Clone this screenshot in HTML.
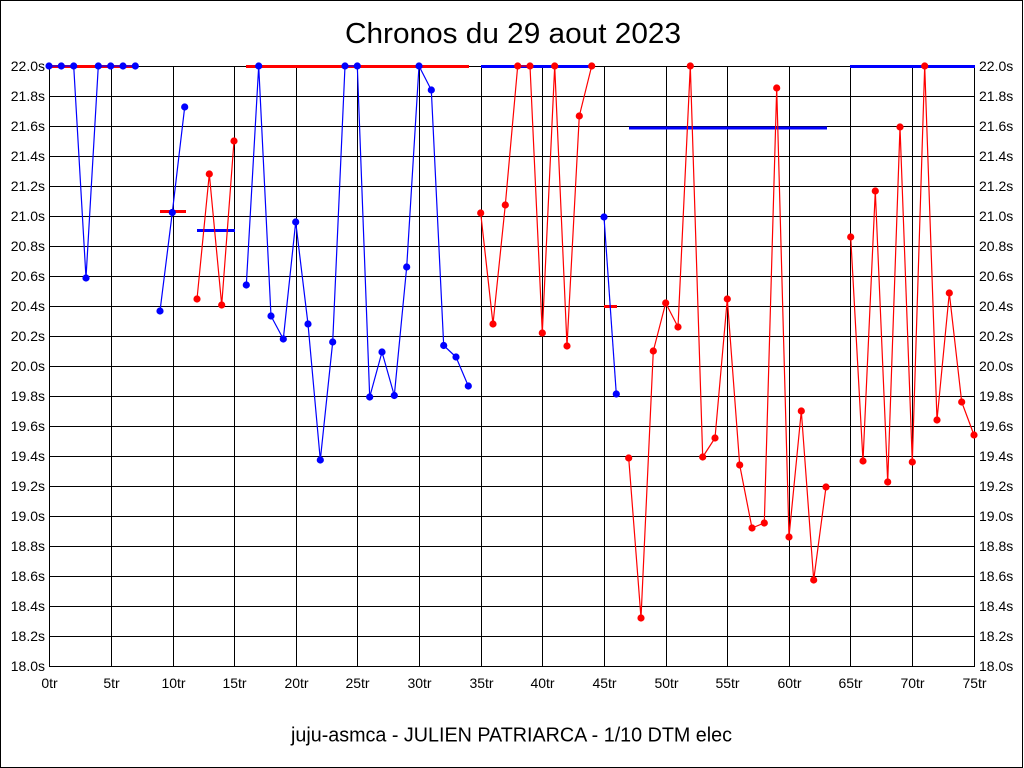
<!DOCTYPE html>
<html><head><meta charset="utf-8"><style>
html,body{margin:0;padding:0;background:#fff;}
svg{display:block;}
text{font-family:"Liberation Sans",Arial,sans-serif;fill:#000;}
</style></head><body>
<svg width="1024" height="768" viewBox="0 0 1024 768" xmlns="http://www.w3.org/2000/svg">
<rect x="0" y="0" width="1024" height="768" fill="#fff"/>
<rect x="0.5" y="0.5" width="1022" height="767" fill="none" stroke="#000" stroke-width="1"/>
<text x="513" y="43" font-size="29" text-anchor="middle" textLength="336" lengthAdjust="spacingAndGlyphs">Chronos du 29 aout 2023</text>
<g stroke="#000" stroke-width="1" shape-rendering="crispEdges">
<line x1="49" y1="66.5" x2="974" y2="66.5"/><line x1="49" y1="96.5" x2="974" y2="96.5"/><line x1="49" y1="126.5" x2="974" y2="126.5"/><line x1="49" y1="156.5" x2="974" y2="156.5"/><line x1="49" y1="186.5" x2="974" y2="186.5"/><line x1="49" y1="216.5" x2="974" y2="216.5"/><line x1="49" y1="246.5" x2="974" y2="246.5"/><line x1="49" y1="276.5" x2="974" y2="276.5"/><line x1="49" y1="306.5" x2="974" y2="306.5"/><line x1="49" y1="336.5" x2="974" y2="336.5"/><line x1="49" y1="366.5" x2="974" y2="366.5"/><line x1="49" y1="396.5" x2="974" y2="396.5"/><line x1="49" y1="426.5" x2="974" y2="426.5"/><line x1="49" y1="456.5" x2="974" y2="456.5"/><line x1="49" y1="486.5" x2="974" y2="486.5"/><line x1="49" y1="516.5" x2="974" y2="516.5"/><line x1="49" y1="546.5" x2="974" y2="546.5"/><line x1="49" y1="576.5" x2="974" y2="576.5"/><line x1="49" y1="606.5" x2="974" y2="606.5"/><line x1="49" y1="636.5" x2="974" y2="636.5"/><line x1="49" y1="666.5" x2="974" y2="666.5"/>
<line x1="49.5" y1="66" x2="49.5" y2="667"/><line x1="111.5" y1="66" x2="111.5" y2="667"/><line x1="173.5" y1="66" x2="173.5" y2="667"/><line x1="234.5" y1="66" x2="234.5" y2="667"/><line x1="296.5" y1="66" x2="296.5" y2="667"/><line x1="357.5" y1="66" x2="357.5" y2="667"/><line x1="419.5" y1="66" x2="419.5" y2="667"/><line x1="481.5" y1="66" x2="481.5" y2="667"/><line x1="542.5" y1="66" x2="542.5" y2="667"/><line x1="604.5" y1="66" x2="604.5" y2="667"/><line x1="666.5" y1="66" x2="666.5" y2="667"/><line x1="727.5" y1="66" x2="727.5" y2="667"/><line x1="789.5" y1="66" x2="789.5" y2="667"/><line x1="850.5" y1="66" x2="850.5" y2="667"/><line x1="912.5" y1="66" x2="912.5" y2="667"/><line x1="974.5" y1="66" x2="974.5" y2="667"/>
</g>
<g font-size="14" text-anchor="end">
<text x="45" y="71">22.0s</text><text x="45" y="101">21.8s</text><text x="45" y="131">21.6s</text><text x="45" y="161">21.4s</text><text x="45" y="191">21.2s</text><text x="45" y="221">21.0s</text><text x="45" y="251">20.8s</text><text x="45" y="281">20.6s</text><text x="45" y="311">20.4s</text><text x="45" y="341">20.2s</text><text x="45" y="371">20.0s</text><text x="45" y="401">19.8s</text><text x="45" y="431">19.6s</text><text x="45" y="461">19.4s</text><text x="45" y="491">19.2s</text><text x="45" y="521">19.0s</text><text x="45" y="551">18.8s</text><text x="45" y="581">18.6s</text><text x="45" y="611">18.4s</text><text x="45" y="641">18.2s</text><text x="45" y="671">18.0s</text>
</g>
<g font-size="14" text-anchor="start">
<text x="979" y="71">22.0s</text><text x="979" y="101">21.8s</text><text x="979" y="131">21.6s</text><text x="979" y="161">21.4s</text><text x="979" y="191">21.2s</text><text x="979" y="221">21.0s</text><text x="979" y="251">20.8s</text><text x="979" y="281">20.6s</text><text x="979" y="311">20.4s</text><text x="979" y="341">20.2s</text><text x="979" y="371">20.0s</text><text x="979" y="401">19.8s</text><text x="979" y="431">19.6s</text><text x="979" y="461">19.4s</text><text x="979" y="491">19.2s</text><text x="979" y="521">19.0s</text><text x="979" y="551">18.8s</text><text x="979" y="581">18.6s</text><text x="979" y="611">18.4s</text><text x="979" y="641">18.2s</text><text x="979" y="671">18.0s</text>
</g>
<g font-size="14" text-anchor="middle">
<text x="49.5" y="688">0tr</text><text x="111.5" y="688">5tr</text><text x="173.5" y="688">10tr</text><text x="234.5" y="688">15tr</text><text x="296.5" y="688">20tr</text><text x="357.5" y="688">25tr</text><text x="419.5" y="688">30tr</text><text x="481.5" y="688">35tr</text><text x="542.5" y="688">40tr</text><text x="604.5" y="688">45tr</text><text x="666.5" y="688">50tr</text><text x="727.5" y="688">55tr</text><text x="789.5" y="688">60tr</text><text x="850.5" y="688">65tr</text><text x="912.5" y="688">70tr</text><text x="974.5" y="688">75tr</text>
</g>
<text x="511.5" y="741.5" font-size="20" text-anchor="middle" textLength="441" lengthAdjust="spacingAndGlyphs">juju-asmca - JULIEN PATRIARCA - 1/10 DTM elec</text>

<!-- bars -->
<g stroke-width="3" shape-rendering="crispEdges">
<line x1="49" y1="66.5" x2="137" y2="66.5" stroke="#f00"/>
<line x1="160" y1="211.5" x2="186" y2="211.5" stroke="#f00"/>
<line x1="197" y1="230.5" x2="235" y2="230.5" stroke="#00f"/>
<line x1="246" y1="66.5" x2="469" y2="66.5" stroke="#f00"/>
<line x1="481" y1="66.5" x2="593" y2="66.5" stroke="#00f"/>
<line x1="604" y1="306.5" x2="617" y2="306.5" stroke="#f00"/>
<line x1="629" y1="128" x2="827" y2="128" stroke="#00f"/>
<line x1="850" y1="66.5" x2="975" y2="66.5" stroke="#00f"/>
</g>

<!-- series lines -->
<g fill="none" stroke-width="1.2" stroke-linejoin="round">
<polyline stroke="#00f" points="49,66 61.3,66 73.7,66 86,278 98.3,66 110.7,66 123,66 135.3,66"/>
<polyline stroke="#00f" points="160,311 172.3,212.5 184.7,107"/>
<polyline stroke="#f00" points="197,299 209.3,174 221.7,305 234,141"/>
<polyline stroke="#00f" points="246.3,285 258.7,66 271,316 283.3,339 295.7,222 308,324 320.3,460 332.7,342 345,66 357.3,66 369.7,397 382,352 394.3,395.5 406.7,267 419,66 431.3,90 443.7,345.5 456,357 468.3,386"/>
<polyline stroke="#f00" points="480.7,213 493,324 505.3,205 517.7,66 530,66 542.3,333 554.7,66 567,346 579.3,116 591.7,66"/>
<polyline stroke="#00f" points="604,217 616.3,394"/>
<polyline stroke="#f00" points="628.7,458 641,618 653.3,351 665.7,303 678,327 690.3,66 702.7,457 715,438 727.3,299 739.7,465 752,528 764.3,523 776.7,88 789,537 801.3,411 813.7,580 826,487"/>
<polyline stroke="#f00" points="850.7,237 863,461 875.3,191 887.7,482 900,127 912.3,462 924.7,66 937,420 949.3,293 961.7,402 974,435"/>
</g>

<!-- markers -->
<g fill="#00f">
<circle cx="49" cy="66" r="3.6"/><circle cx="61.3" cy="66" r="3.6"/><circle cx="73.7" cy="66" r="3.6"/><circle cx="86" cy="278" r="3.6"/><circle cx="98.3" cy="66" r="3.6"/><circle cx="110.7" cy="66" r="3.6"/><circle cx="123" cy="66" r="3.6"/><circle cx="135.3" cy="66" r="3.6"/>
<circle cx="160" cy="311" r="3.6"/><circle cx="172.3" cy="212.5" r="3.6"/><circle cx="184.7" cy="107" r="3.6"/>
<circle cx="246.3" cy="285" r="3.6"/><circle cx="258.7" cy="66" r="3.6"/><circle cx="271" cy="316" r="3.6"/><circle cx="283.3" cy="339" r="3.6"/><circle cx="295.7" cy="222" r="3.6"/><circle cx="308" cy="324" r="3.6"/><circle cx="320.3" cy="460" r="3.6"/><circle cx="332.7" cy="342" r="3.6"/><circle cx="345" cy="66" r="3.6"/><circle cx="357.3" cy="66" r="3.6"/><circle cx="369.7" cy="397" r="3.6"/><circle cx="382" cy="352" r="3.6"/><circle cx="394.3" cy="395.5" r="3.6"/><circle cx="406.7" cy="267" r="3.6"/><circle cx="419" cy="66" r="3.6"/><circle cx="431.3" cy="90" r="3.6"/><circle cx="443.7" cy="345.5" r="3.6"/><circle cx="456" cy="357" r="3.6"/><circle cx="468.3" cy="386" r="3.6"/>
<circle cx="604" cy="217" r="3.6"/><circle cx="616.3" cy="394" r="3.6"/>
</g>
<g fill="#f00">
<circle cx="197" cy="299" r="3.6"/><circle cx="209.3" cy="174" r="3.6"/><circle cx="221.7" cy="305" r="3.6"/><circle cx="234" cy="141" r="3.6"/>
<circle cx="480.7" cy="213" r="3.6"/><circle cx="493" cy="324" r="3.6"/><circle cx="505.3" cy="205" r="3.6"/><circle cx="517.7" cy="66" r="3.6"/><circle cx="530" cy="66" r="3.6"/><circle cx="542.3" cy="333" r="3.6"/><circle cx="554.7" cy="66" r="3.6"/><circle cx="567" cy="346" r="3.6"/><circle cx="579.3" cy="116" r="3.6"/><circle cx="591.7" cy="66" r="3.6"/>
<circle cx="628.7" cy="458" r="3.6"/><circle cx="641" cy="618" r="3.6"/><circle cx="653.3" cy="351" r="3.6"/><circle cx="665.7" cy="303" r="3.6"/><circle cx="678" cy="327" r="3.6"/><circle cx="690.3" cy="66" r="3.6"/><circle cx="702.7" cy="457" r="3.6"/><circle cx="715" cy="438" r="3.6"/><circle cx="727.3" cy="299" r="3.6"/><circle cx="739.7" cy="465" r="3.6"/><circle cx="752" cy="528" r="3.6"/><circle cx="764.3" cy="523" r="3.6"/><circle cx="776.7" cy="88" r="3.6"/><circle cx="789" cy="537" r="3.6"/><circle cx="801.3" cy="411" r="3.6"/><circle cx="813.7" cy="580" r="3.6"/><circle cx="826" cy="487" r="3.6"/>
<circle cx="850.7" cy="237" r="3.6"/><circle cx="863" cy="461" r="3.6"/><circle cx="875.3" cy="191" r="3.6"/><circle cx="887.7" cy="482" r="3.6"/><circle cx="900" cy="127" r="3.6"/><circle cx="912.3" cy="462" r="3.6"/><circle cx="924.7" cy="66" r="3.6"/><circle cx="937" cy="420" r="3.6"/><circle cx="949.3" cy="293" r="3.6"/><circle cx="961.7" cy="402" r="3.6"/><circle cx="974" cy="435" r="3.6"/>
</g>
</svg>
</body></html>
